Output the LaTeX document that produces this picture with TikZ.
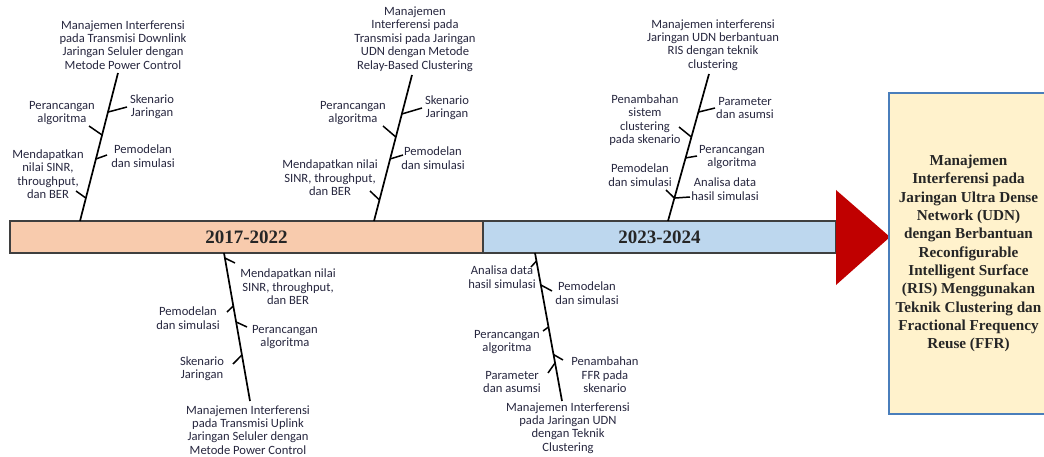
\documentclass[tikz,border=0pt]{standalone}
\usepackage{fontspec}
\setmainfont{Liberation Serif}
\newfontfamily\lblfam{Carlito}
\usetikzlibrary{calc}

\definecolor{txt}{HTML}{27273F}
\definecolor{peach}{HTML}{F8CBAD}
\definecolor{paleblue}{HTML}{BDD7EE}
\definecolor{barline}{HTML}{3F3F3F}
\definecolor{arrowred}{HTML}{C00000}
\definecolor{goalfill}{HTML}{FFF2CC}
\definecolor{goalline}{HTML}{4A7EBB}

% a branch of a fishbone: starts on the spine #1--#3 at fraction #2, ends at named point #5
\newcommand\twigto[5]{%
  \coordinate (#5) at (#4);
  \draw[twig] ($(#1)!#2!(#3)$) -- (#5);}

\begin{document}
\begin{tikzpicture}[x=1pt,y=-1pt,
  lbl/.style={font=\lblfam\fontsize{12.6}{13.4}\selectfont, text=txt, align=center, inner sep=0pt},
  spine/.style={line width=1.7pt, black},
  twig/.style={line width=1.5pt, black},
  era/.style={draw=barline, line width=1.6pt, minimum height=32pt, inner sep=0pt,
              font=\bfseries\fontsize{19}{20}\selectfont, text=black!85},
  goal/.style={draw=goalline, fill=goalfill, line width=2.4pt, inner sep=0pt,
               align=center, font=\bfseries\fontsize{15.2}{18.3}\selectfont, text=black!85}]

\useasboundingbox (0,0) rectangle (1044,457);
\clip (0,0) rectangle (1044,457);

% ---- timeline bar ----
\node[era, fill=peach, minimum width=473pt] (era1) at (246.5,237) {2017-2022};
\node[era, fill=paleblue, minimum width=353pt] (era2) at (659.5,237) {2023-2024};

% ---- arrow head and goal box ----
\fill[arrowred] (836,190) -- (890,237) -- (836,285) -- cycle;
\node[goal, minimum width=159pt, minimum height=321pt] (goal) at (968.5,253.5)
  {Manajemen\\Interferensi pada\\Jaringan Ultra Dense\\Network (UDN)\\dengan Berbantuan\\Reconfigurable\\Intelligent Surface\\(RIS) Menggunakan\\Teknik Clustering dan\\Fractional Frequency\\Reuse (FFR)};

% ---- fishbone 1 (above, 2017-2022) ----
\node[lbl] (t1) at (123,45) {Manajemen Interferensi\\pada Transmisi Downlink\\Jaringan Seluler dengan\\Metode Power Control};
\coordinate (s1a) at (80,221);
\coordinate (s1b) at (118,73);
\draw[spine] (s1a) -- (s1b);
\node[lbl] (a1) at (152,107) {Skenario\\Jaringan};
\node[lbl] (b1) at (62,113) {Perancangan\\algoritma};
\node[lbl] (c1) at (143,156) {Pemodelan\\dan simulasi};
\node[lbl] (d1) at (48,174) {Mendapatkan\\nilai SINR,\\throughput,\\dan BER};
\twigto{s1a}{0.736}{s1b}{127,107}{a1e}
\twigto{s1a}{0.581}{s1b}{89,126}{b1e}
\twigto{s1a}{0.419}{s1b}{107,155}{c1e}
\twigto{s1a}{0.155}{s1b}{76,191}{d1e}

% ---- fishbone 2 (above, 2017-2022) ----
\node[lbl] (t2) at (415,39) {Manajemen\\Interferensi pada\\Transmisi pada Jaringan\\UDN dengan Metode\\Relay-Based Clustering};
\coordinate (s2a) at (374,221);
\coordinate (s2b) at (412,75);
\draw[spine] (s2a) -- (s2b);
\node[lbl] (a2) at (447,108) {Skenario\\Jaringan};
\node[lbl] (b2) at (353,113) {Perancangan\\algoritma};
\node[lbl] (c2) at (433,158) {Pemodelan\\dan simulasi};
\node[lbl] (d2) at (330,178) {Mendapatkan nilai\\SINR, throughput,\\dan BER};
\twigto{s2a}{0.733}{s2b}{422,108}{a2e}
\twigto{s2a}{0.575}{s2b}{383,126}{b2e}
\twigto{s2a}{0.425}{s2b}{403,155}{c2e}
\twigto{s2a}{0.144}{s2b}{370,191}{d2e}

% ---- fishbone 3 (above, 2023-2024) ----
\node[lbl] (t3) at (713,45) {Manajemen interferensi\\Jaringan UDN berbantuan\\RIS dengan teknik\\clustering};
\coordinate (s3a) at (668,221);
\coordinate (s3b) at (709,74);
\draw[spine] (s3a) -- (s3b);
\node[lbl] (a3) at (745,108) {Parameter\\dan asumsi};
\node[lbl] (b3) at (645,120) {Penambahan\\sistem\\clustering\\pada skenario};
\node[lbl] (c3) at (732,157) {Perancangan\\algoritma};
\node[lbl] (d3) at (640,175) {Pemodelan\\dan simulasi};
\node[lbl] (e3) at (725,189) {Analisa data\\hasil simulasi};
\twigto{s3a}{0.741}{s3b}{715,108}{a3e}
\twigto{s3a}{0.571}{s3b}{679,127}{b3e}
\twigto{s3a}{0.429}{s3b}{697,156}{c3e}
\twigto{s3a}{0.156}{s3b}{666,190}{d3e}
\twigto{s3a}{0.156}{s3b}{690,197}{e3e}

% ---- fishbone 4 (below, 2017-2022) ----
\node[lbl] (t4) at (248,430) {Manajemen Interferensi\\pada Transmisi Uplink\\Jaringan Seluler dengan\\Metode Power Control};
\coordinate (s4a) at (224,253);
\coordinate (s4b) at (250,401);
\draw[spine] (s4a) -- (s4b);
\node[lbl] (a4) at (288,287) {Mendapatkan nilai\\SINR, throughput,\\dan BER};
\node[lbl] (b4) at (188,318) {Pemodelan\\dan simulasi};
\node[lbl] (c4) at (285,337) {Perancangan\\algoritma};
\node[lbl] (d4) at (202,369) {Skenario\\Jaringan};
\twigto{s4a}{0.034}{s4b}{235,263}{a4e}
\twigto{s4a}{0.358}{s4b}{227,312}{b4e}
\twigto{s4a}{0.466}{s4b}{247,327}{c4e}
\twigto{s4a}{0.689}{s4b}{233,364}{d4e}

% ---- fishbone 5 (below, 2023-2024) ----
\node[lbl] (t5) at (568,428) {Manajemen Interferensi\\pada Jaringan UDN\\dengan Teknik\\Clustering};
\coordinate (s5a) at (535,253);
\coordinate (s5b) at (562,401);
\draw[spine] (s5a) -- (s5b);
\node[lbl] (a5) at (502,277) {Analisa data\\hasil simulasi};
\node[lbl] (b5) at (587,293) {Pemodelan\\dan simulasi};
\node[lbl] (c5) at (507,342) {Perancangan\\algoritma};
\node[lbl] (d5) at (605,375) {Penambahan\\FFR pada\\skenario};
\node[lbl] (e5) at (512,382) {Parameter\\dan asumsi};
\twigto{s5a}{0.054}{s5b}{531,267}{a5e}
\twigto{s5a}{0.216}{s5b}{552,291}{b5e}
\twigto{s5a}{0.500}{s5b}{543,331}{c5e}
\twigto{s5a}{0.686}{s5b}{563,360}{d5e}
\twigto{s5a}{0.743}{s5b}{548,373}{e5e}

\end{tikzpicture}
\end{document}
